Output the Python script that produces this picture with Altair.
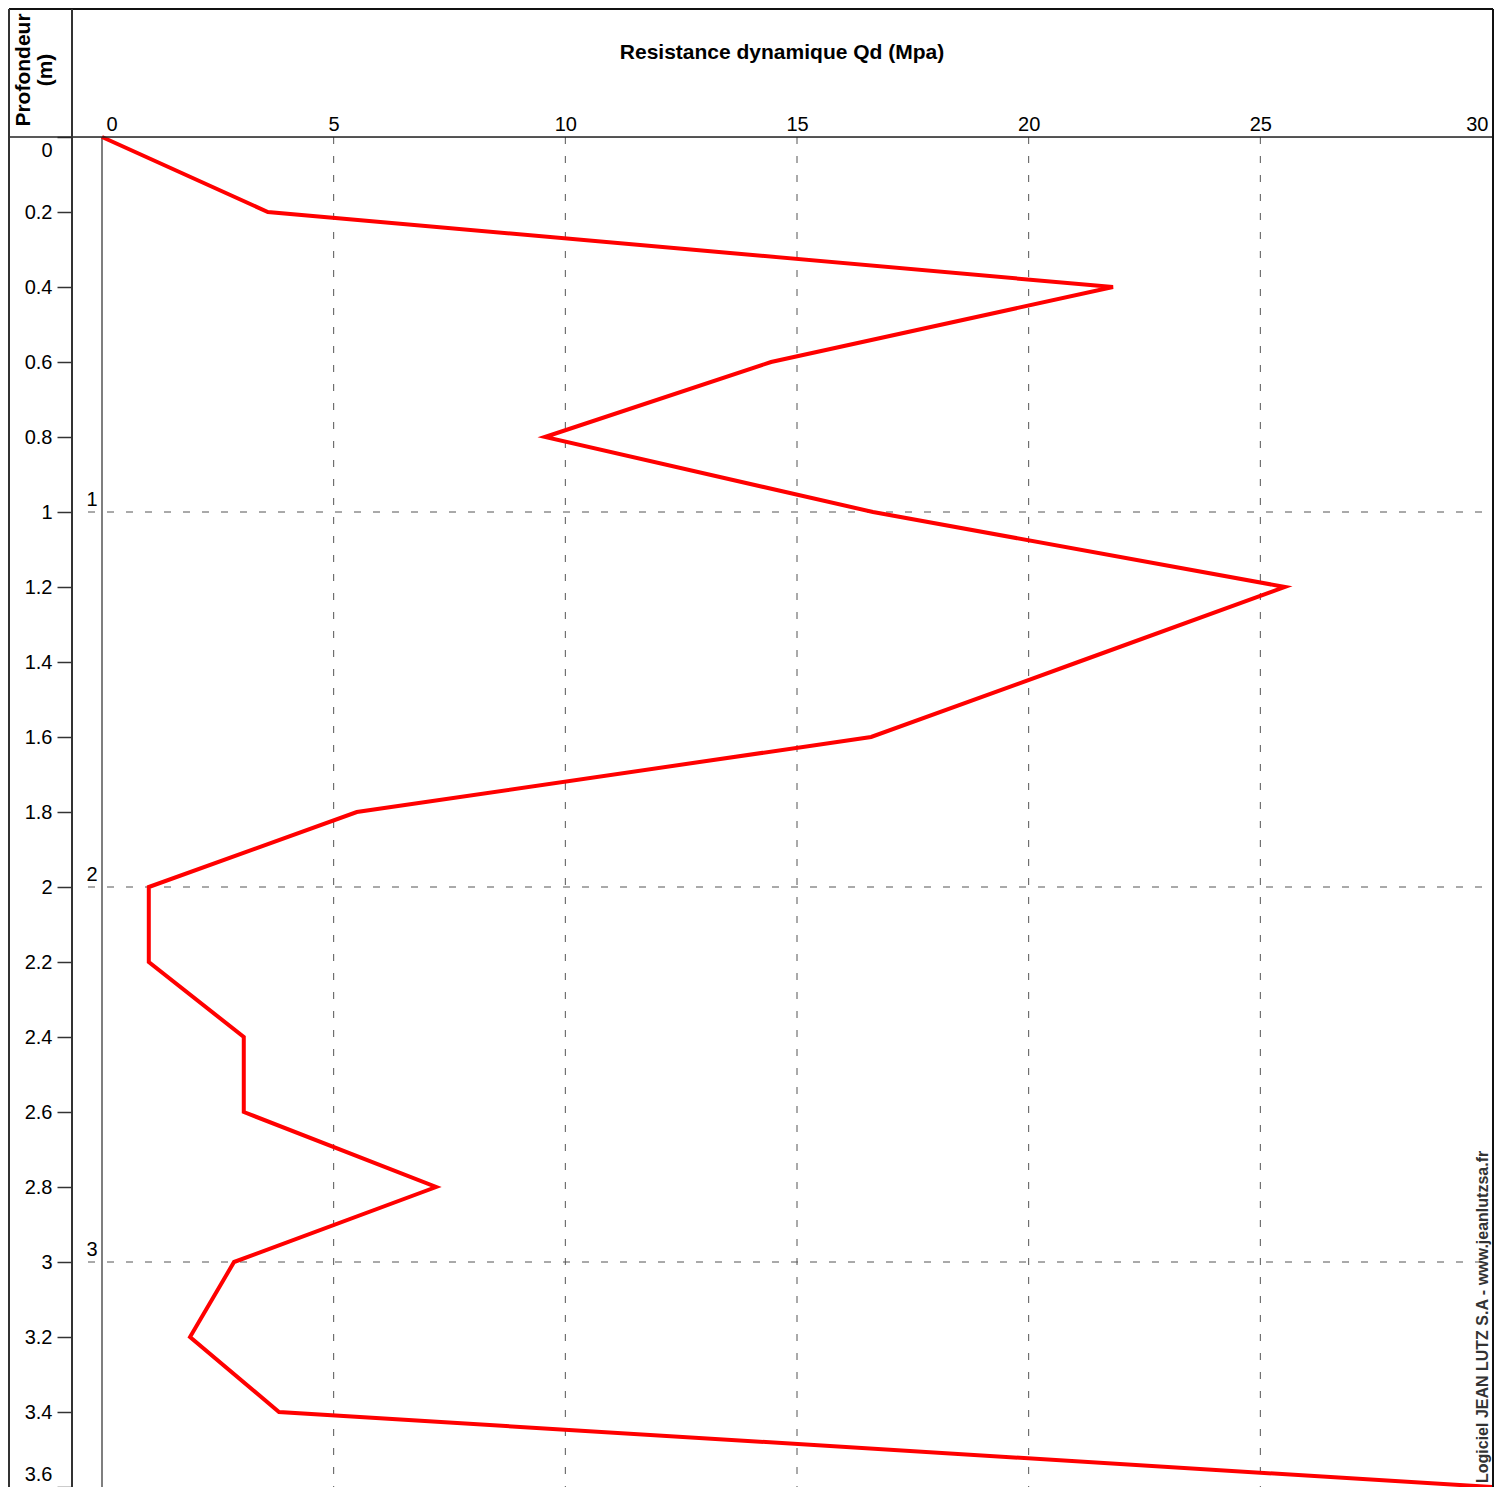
import altair as alt
import pandas as pd

# ---- data ----
depth = [0.0, 0.2, 0.4, 0.6, 0.8, 1.0, 1.2, 1.4, 1.6, 1.8, 2.0, 2.2, 2.4, 2.6, 2.8, 3.0, 3.2, 3.4, 3.6]
qd = [0.0, 3.58, 21.82, 14.44, 9.56, 16.64, 25.53, 21.07, 16.6, 5.50, 1.01, 1.01, 3.06, 3.06, 7.21, 2.85, 1.90, 3.82, 30.0]

x_ticks = [0, 5, 10, 15, 20, 25, 30]
y_ticks = [0, 0.2, 0.4, 0.6, 0.8, 1, 1.2, 1.4, 1.6, 1.8, 2, 2.2, 2.4, 2.6, 2.8, 3, 3.2, 3.4, 3.6]
grid_x = [5, 10, 15, 20, 25]
zero_line = [0]
grid_depth = [1, 2, 3]
grid_labels = ["1", "2", "3"]

title_text = ["Resistance dynamique Qd (Mpa)"]
ylab_line1 = ["Profondeur"]
ylab_line2 = ["(m)"]
credit_text = ["Logiciel JEAN LUTZ S.A - www.jeanlutzsa.fr"]

FONT = "Liberation Sans"
W, H = 1420, 1350

xscale = alt.Scale(domain=[-0.6475, 30], nice=False, zero=False)
yscale = alt.Scale(domain=[0, 3.6], nice=False, zero=False, reverse=True)

xaxis = alt.Axis(
    orient="top", values=x_ticks, format="d", ticks=False, tickSize=0,
    domain=False, grid=False, title=None, labelFlush=31, labelFlushOffset=-4,
    labelPadding=3, labelFont=FONT, labelFontSize=20, labelColor="#000")
yaxis = alt.Axis(
    orient="left", values=y_ticks, format=".1~f", labelFlush=True, labelFlushOffset=-3,
    tickSize=15, tickColor="#333", tickWidth=1.5, labelPadding=5,
    domain=False, grid=False, title=None,
    labelFont=FONT, labelFontSize=20, labelColor="#000")

df = pd.DataFrame({"depth": depth, "qd": qd})

line = alt.Chart(df).mark_line(
    color="#ff0000", strokeWidth=4, strokeJoin="miter"
).encode(
    x=alt.X("qd:Q", scale=xscale, axis=xaxis),
    y=alt.Y("depth:Q", scale=yscale, axis=yaxis),
    order="depth:Q",
)

vgrid = alt.Chart(pd.DataFrame({"qd": grid_x})).mark_rule(
    color="#555", strokeWidth=1, strokeDash=[7, 12]
).encode(
    x=alt.X("qd:Q", scale=xscale, axis=xaxis),
    y=alt.value(0), y2=alt.value(H),
)

zline = alt.Chart(pd.DataFrame({"qd": zero_line})).mark_rule(
    color="#555", strokeWidth=1.5
).encode(
    x=alt.X("qd:Q", scale=xscale, axis=xaxis),
    y=alt.value(0), y2=alt.value(H),
)

hgrid_df = pd.DataFrame({"depth": grid_depth, "lab": grid_labels})
hgrid = alt.Chart(hgrid_df).mark_rule(
    color="#555", strokeWidth=1, strokeDash=[7, 12]
).encode(
    y=alt.Y("depth:Q", scale=yscale, axis=yaxis),
    x=alt.value(16), x2=alt.value(W),
)
hlabels = alt.Chart(hgrid_df).mark_text(
    font=FONT, fontSize=20, align="center", baseline="alphabetic", dy=-6, color="#000"
).encode(
    y=alt.Y("depth:Q", scale=yscale, axis=yaxis),
    x=alt.value(20),
    text="lab:N",
)

# frame lines
one = pd.DataFrame({"k": [0]})
frame_h = alt.Chart(one).mark_rule(color="#222", strokeWidth=1.5).encode(
    x=alt.value(-64), x2=alt.value(W), y=alt.value(0))
frame_top = alt.Chart(one).mark_rule(color="#111", strokeWidth=2).encode(
    x=alt.value(-63), x2=alt.value(W + 1), y=alt.value(-128))
frame_left = alt.Chart(one).mark_rule(color="#333", strokeWidth=2).encode(
    x=alt.value(-63), y=alt.value(-128), y2=alt.value(H))
frame_sep = alt.Chart(one).mark_rule(color="#333", strokeWidth=2).encode(
    x=alt.value(0), y=alt.value(-128), y2=alt.value(H))
frame_right = alt.Chart(one).mark_rule(color="#111", strokeWidth=2).encode(
    x=alt.value(W + 1), y=alt.value(-128), y2=alt.value(H))

title = alt.Chart(pd.DataFrame({"t": title_text})).mark_text(
    font=FONT, fontSize=21, fontWeight="bold", align="center", baseline="middle", color="#000"
).encode(x=alt.value(W / 2), y=alt.value(-84), text="t:N")

ylab1 = alt.Chart(pd.DataFrame({"t": ylab_line1})).mark_text(
    font=FONT, fontSize=21, fontWeight="bold", align="center", baseline="middle", angle=270, color="#000"
).encode(x=alt.value(-48), y=alt.value(-67), text="t:N")
ylab2 = alt.Chart(pd.DataFrame({"t": ylab_line2})).mark_text(
    font=FONT, fontSize=21, fontWeight="bold", align="center", baseline="middle", angle=270, color="#000"
).encode(x=alt.value(-26), y=alt.value(-67), text="t:N")

credit = alt.Chart(pd.DataFrame({"t": credit_text})).mark_text(
    font=FONT, fontSize=16, fontWeight="bold", align="left", baseline="middle", angle=270, color="#333"
).encode(x=alt.value(W - 9), y=alt.value(H - 4), text="t:N")

chart = alt.layer(
    vgrid, hgrid, zline, hlabels, line,
    frame_h, frame_top, frame_left, frame_sep, frame_right,
    title, ylab1, ylab2, credit,
).properties(
    width=W, height=H,
    autosize=alt.AutoSizeParams(type="none"),
    padding={"left": 64, "top": 129, "right": 3, "bottom": 0},
).configure_view(stroke=None).configure(background="white")

chart.save("out.html", embed_options={"renderer": "svg", "actions": False})
